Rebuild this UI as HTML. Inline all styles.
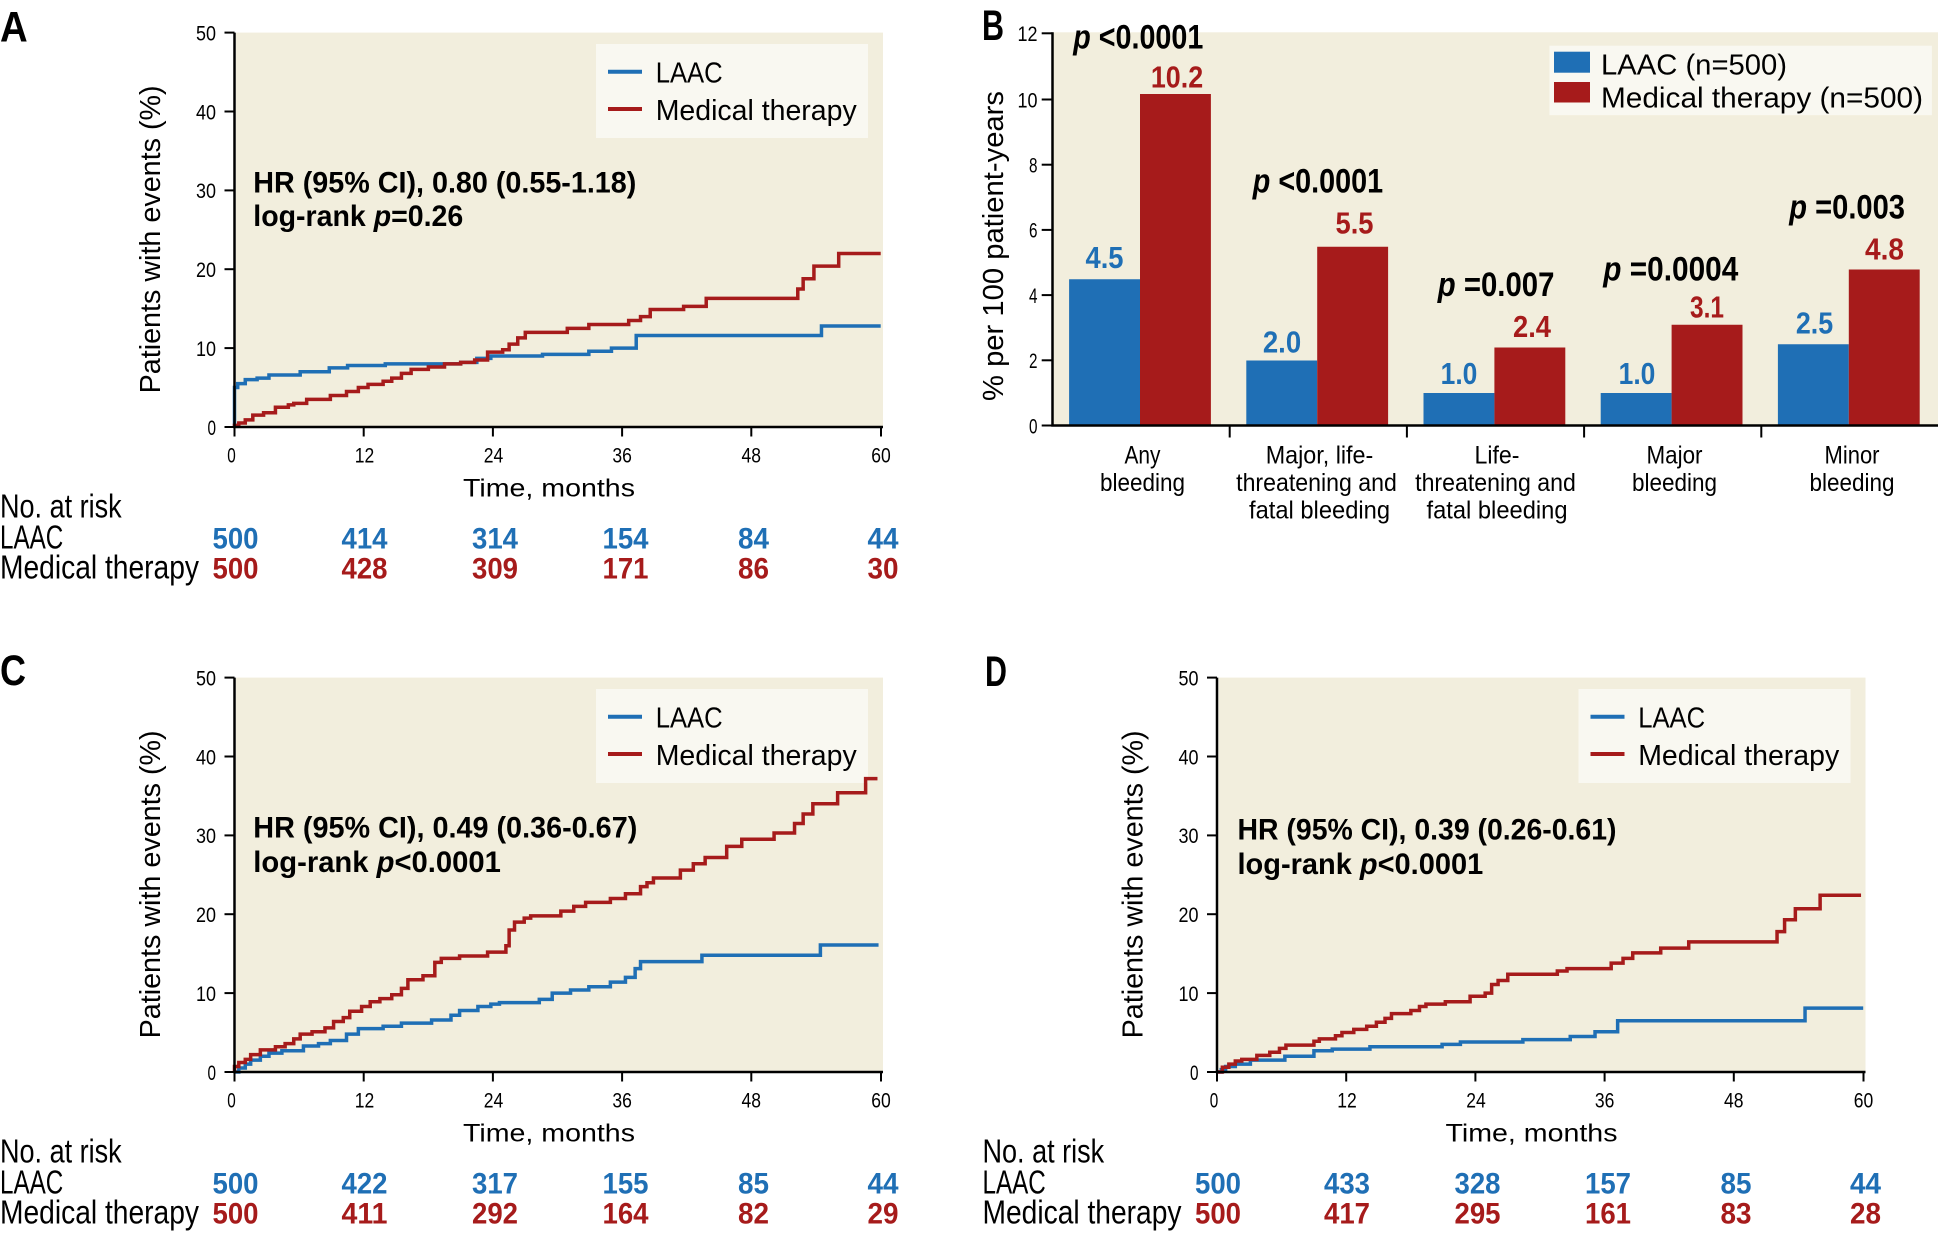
<!DOCTYPE html>
<html><head><meta charset="utf-8">
<style>
html,body{margin:0;padding:0;background:#fff;overflow:hidden;}
svg{display:block;}
.c{font-family:"Liberation Sans Narrow","Liberation Sans",sans-serif;}
.b{font-weight:700;}
.r{font-family:"Liberation Sans",sans-serif;}
</style></head>
<body>
<svg width="1938" height="1238" viewBox="0 0 1938 1238" xmlns="http://www.w3.org/2000/svg">
<defs>
<g id="kmframe">
  <rect x="236" y="32.6" width="647" height="394.4" fill="#f2eedd"/>
  <rect x="596" y="44" width="272" height="94" fill="#f9f8f1"/>
  <line x1="608" y1="71.7" x2="642" y2="71.7" stroke="#1f6fb5" stroke-width="4"/>
  <line x1="608" y1="109" x2="642" y2="109" stroke="#a61b1b" stroke-width="4"/>
  <text class="r" x="655.7" y="82.3" font-size="28.5" textLength="67" lengthAdjust="spacingAndGlyphs">LAAC</text>
  <text class="r" x="655.7" y="120" font-size="28.5" textLength="201" lengthAdjust="spacingAndGlyphs">Medical therapy</text>
</g>
<g id="kmaxes">
  <path d="M234.5 32.6 V427 H883" stroke="#000" stroke-width="2.5" fill="none"/>
  <g stroke="#000" stroke-width="2">
    <line x1="224.5" y1="427" x2="234.5" y2="427"/>
    <line x1="224.5" y1="348.1" x2="234.5" y2="348.1"/>
    <line x1="224.5" y1="269.2" x2="234.5" y2="269.2"/>
    <line x1="224.5" y1="190.4" x2="234.5" y2="190.4"/>
    <line x1="224.5" y1="111.5" x2="234.5" y2="111.5"/>
    <line x1="224.5" y1="32.6" x2="234.5" y2="32.6"/>
    <line x1="234.5" y1="427" x2="234.5" y2="436.5"/>
    <line x1="363.7" y1="427" x2="363.7" y2="436.5"/>
    <line x1="492.9" y1="427" x2="492.9" y2="436.5"/>
    <line x1="622.1" y1="427" x2="622.1" y2="436.5"/>
    <line x1="751.3" y1="427" x2="751.3" y2="436.5"/>
    <line x1="881" y1="427" x2="881" y2="436.5"/>
  </g>
  <g class="c" font-size="21.5" text-anchor="end" lengthAdjust="spacingAndGlyphs">
    <text x="216" y="434.8" textLength="8.5" lengthAdjust="spacingAndGlyphs">0</text>
    <text x="216" y="355.9" textLength="20" lengthAdjust="spacingAndGlyphs">10</text>
    <text x="216" y="277" textLength="20" lengthAdjust="spacingAndGlyphs">20</text>
    <text x="216" y="198.2" textLength="20" lengthAdjust="spacingAndGlyphs">30</text>
    <text x="216" y="119.3" textLength="20" lengthAdjust="spacingAndGlyphs">40</text>
    <text x="216" y="40.4" textLength="20" lengthAdjust="spacingAndGlyphs">50</text>
  </g>
  <g class="c" font-size="21.5" text-anchor="middle">
    <text x="231.5" y="462.3" textLength="8.5" lengthAdjust="spacingAndGlyphs">0</text>
    <text x="364.5" y="462.3" textLength="19.5" lengthAdjust="spacingAndGlyphs">12</text>
    <text x="493.5" y="462.3" textLength="19.5" lengthAdjust="spacingAndGlyphs">24</text>
    <text x="622.1" y="462.3" textLength="19.5" lengthAdjust="spacingAndGlyphs">36</text>
    <text x="751.3" y="462.3" textLength="19.5" lengthAdjust="spacingAndGlyphs">48</text>
    <text x="881" y="462.3" textLength="19.5" lengthAdjust="spacingAndGlyphs">60</text>
  </g>
  <text class="c" x="463" y="496.7" font-size="25" textLength="172" lengthAdjust="spacingAndGlyphs">Time, months</text>
  <text class="r" transform="translate(160,239.4) rotate(-90)" text-anchor="middle" font-size="29" textLength="308" lengthAdjust="spacingAndGlyphs">Patients with events (%)</text>
  <text class="c" x="0" y="517.3" font-size="33" textLength="121.7" lengthAdjust="spacingAndGlyphs">No. at risk</text>
  <text class="c" x="0" y="548.3" font-size="33" textLength="63.3" lengthAdjust="spacingAndGlyphs">LAAC</text>
  <text class="c" x="0" y="578.3" font-size="33" textLength="199" lengthAdjust="spacingAndGlyphs">Medical therapy</text>
</g>
</defs>

<!-- ================= PANEL A ================= -->
<g>
  <use href="#kmframe"/>
  <text class="c b" x="253.3" y="192.7" font-size="30" textLength="383" lengthAdjust="spacingAndGlyphs">HR (95% CI), 0.80 (0.55-1.18)</text>
  <text class="c b" x="253.3" y="226" font-size="30" textLength="210" lengthAdjust="spacingAndGlyphs">log-rank <tspan font-style="italic">p</tspan>=0.26</text>
  <g transform="translate(234.5,427) scale(10.77,-7.888)" fill="none" stroke-width="3.5" stroke-linejoin="miter">
    <path vector-effect="non-scaling-stroke" stroke="#1f6fb5" d="M0 0 V5 H0.3 V5.5 H1 V6 H2.1 V6.2 H3.2 V6.6 H6.1 V7 H8.8 V7.5 H10.5 V7.8 H14 V8 H21 V8.2 H22.5 V8.7 H23.8 V9 H28.6 V9.2 H32.9 V9.6 H35 V10 H37.3 V11.6 H54.5 V12.8 H60"/>
    <path vector-effect="non-scaling-stroke" stroke="#a61b1b" d="M0 0 V0.2 H0.4 V0.5 H1 V0.9 H1.7 V1.5 H2.7 V1.8 H3.8 V2.5 H5 V2.8 H5.5 V3 H6.7 V3.5 H8.9 V4 H10.4 V4.5 H11.5 V5 H12.4 V5.4 H13.8 V5.8 H14.6 V6.2 H15.5 V6.8 H16.4 V7.3 H18 V7.6 H19.5 V8 H21 V8.2 H22.3 V8.5 H23.5 V9.5 H24.9 V9.8 H25.5 V10.5 H26.3 V11.3 H27 V12 H30.9 V12.5 H32.9 V13 H36.6 V13.5 H37.7 V14 H38.6 V14.9 H41.7 V15.3 H43.8 V16.3 H52.3 V17.5 H52.8 V18.8 H53.8 V20.4 H56.1 V22 H60"/>
  </g>
  <use href="#kmaxes"/>
  <text class="c b" x="0" y="41.7" font-size="43" textLength="27.7" lengthAdjust="spacingAndGlyphs">A</text>
  <g class="c b" font-size="30" text-anchor="middle" fill="#1f6fb5">
    <text x="235.5" y="548.3" textLength="46" lengthAdjust="spacingAndGlyphs">500</text>
    <text x="364.5" y="548.3" textLength="46" lengthAdjust="spacingAndGlyphs">414</text>
    <text x="495" y="548.3" textLength="46" lengthAdjust="spacingAndGlyphs">314</text>
    <text x="625.5" y="548.3" textLength="46" lengthAdjust="spacingAndGlyphs">154</text>
    <text x="753.5" y="548.3" textLength="31" lengthAdjust="spacingAndGlyphs">84</text>
    <text x="883" y="548.3" textLength="31" lengthAdjust="spacingAndGlyphs">44</text>
  </g>
  <g class="c b" font-size="30" text-anchor="middle" fill="#a61b1b">
    <text x="235.5" y="578.3" textLength="46" lengthAdjust="spacingAndGlyphs">500</text>
    <text x="364.5" y="578.3" textLength="46" lengthAdjust="spacingAndGlyphs">428</text>
    <text x="495" y="578.3" textLength="46" lengthAdjust="spacingAndGlyphs">309</text>
    <text x="625.5" y="578.3" textLength="46" lengthAdjust="spacingAndGlyphs">171</text>
    <text x="753.5" y="578.3" textLength="31" lengthAdjust="spacingAndGlyphs">86</text>
    <text x="883" y="578.3" textLength="31" lengthAdjust="spacingAndGlyphs">30</text>
  </g>
</g>

<!-- ================= PANEL C ================= -->
<g transform="translate(0,645)">
  <use href="#kmframe"/>
  <text class="c b" x="253.3" y="192.7" font-size="30" textLength="384" lengthAdjust="spacingAndGlyphs">HR (95% CI), 0.49 (0.36-0.67)</text>
  <text class="c b" x="253.3" y="227" font-size="30" textLength="247.6" lengthAdjust="spacingAndGlyphs">log-rank <tspan font-style="italic">p</tspan>&lt;0.0001</text>
  <g transform="translate(234.5,427) scale(10.77,-7.888)" fill="none" stroke-width="3.5">
    <path vector-effect="non-scaling-stroke" stroke="#1f6fb5" d="M0 0 H0.4 V0.5 H1 V1 H1.5 V1.5 H2.4 V2 H3.2 V2.4 H4.4 V2.7 H6.4 V3.3 H7.8 V3.6 H8.9 V4 H10.4 V4.8 H11.5 V5.5 H13.8 V5.8 H15.5 V6.2 H18.3 V6.6 H20.1 V7.2 H20.9 V7.8 H22.6 V8.3 H23.8 V8.6 H24.6 V8.8 H28.3 V9.2 H29.5 V10 H31.2 V10.4 H32.9 V10.8 H34.9 V11.4 H36.3 V12 H37.2 V13.1 H37.7 V14 H43.4 V14.8 H54.4 V16.1 H59.8"/>
    <path vector-effect="non-scaling-stroke" stroke="#a61b1b" d="M0 0 V0.7 H0.4 V1.2 H1 V1.6 H1.5 V2.2 H2.4 V2.8 H3.8 V3.2 H4.7 V3.6 H5.5 V4.2 H6.1 V4.8 H7.2 V5.1 H8.4 V5.6 H9.2 V6.4 H10.1 V6.9 H10.7 V7.7 H11.8 V8.3 H12.6 V8.9 H13.5 V9.3 H14.6 V9.8 H15.5 V10.6 H16.1 V11.7 H17.5 V12.2 H18.6 V13.9 H19.2 V14.4 H20.9 V14.7 H23.5 V15.2 H25.2 V16 H25.5 V18 H26 V19 H26.9 V19.5 H27.5 V19.8 H30.3 V20.4 H31.5 V21 H32.6 V21.5 H34.9 V22 H36.3 V22.6 H37.7 V23.5 H38.3 V24 H38.9 V24.6 H41.4 V25.6 H42.6 V26.4 H43.7 V27.2 H45.7 V28.6 H47.1 V29.5 H50.1 V30.3 H52 V31.5 H52.8 V32.7 H53.7 V34 H56 V35.4 H58.6 V37.2 H59.7"/>
  </g>
  <use href="#kmaxes"/>
  <text class="c b" x="0" y="40.2" font-size="43" textLength="26" lengthAdjust="spacingAndGlyphs">C</text>
  <g class="c b" font-size="30" text-anchor="middle" fill="#1f6fb5">
    <text x="235.5" y="548.3" textLength="46" lengthAdjust="spacingAndGlyphs">500</text>
    <text x="364.5" y="548.3" textLength="46" lengthAdjust="spacingAndGlyphs">422</text>
    <text x="495" y="548.3" textLength="46" lengthAdjust="spacingAndGlyphs">317</text>
    <text x="625.5" y="548.3" textLength="46" lengthAdjust="spacingAndGlyphs">155</text>
    <text x="753.5" y="548.3" textLength="31" lengthAdjust="spacingAndGlyphs">85</text>
    <text x="883" y="548.3" textLength="31" lengthAdjust="spacingAndGlyphs">44</text>
  </g>
  <g class="c b" font-size="30" text-anchor="middle" fill="#a61b1b">
    <text x="235.5" y="578.3" textLength="46" lengthAdjust="spacingAndGlyphs">500</text>
    <text x="364.5" y="578.3" textLength="46" lengthAdjust="spacingAndGlyphs">411</text>
    <text x="495" y="578.3" textLength="46" lengthAdjust="spacingAndGlyphs">292</text>
    <text x="625.5" y="578.3" textLength="46" lengthAdjust="spacingAndGlyphs">164</text>
    <text x="753.5" y="578.3" textLength="31" lengthAdjust="spacingAndGlyphs">82</text>
    <text x="883" y="578.3" textLength="31" lengthAdjust="spacingAndGlyphs">29</text>
  </g>
</g>

<!-- ================= PANEL D ================= -->
<g transform="translate(982.5,645)">
  <use href="#kmframe"/>
  <text class="c b" x="255" y="194.3" font-size="30" textLength="379" lengthAdjust="spacingAndGlyphs">HR (95% CI), 0.39 (0.26-0.61)</text>
  <text class="c b" x="255" y="229" font-size="30" textLength="245.7" lengthAdjust="spacingAndGlyphs">log-rank <tspan font-style="italic">p</tspan>&lt;0.0001</text>
  <g transform="translate(234.5,427) scale(10.77,-7.888)" fill="none" stroke-width="3.5">
    <path vector-effect="non-scaling-stroke" stroke="#1f6fb5" d="M0 0 H0.4 V0.3 H0.8 V0.7 H1.7 V1 H3.1 V1.5 H6.3 V2 H9 V2.7 H10.7 V2.9 H14.2 V3.2 H20.9 V3.5 H22.6 V3.8 H28.4 V4.1 H32.8 V4.5 H35.1 V5.1 H37.2 V6.5 H54.6 V8.1 H60"/>
    <path vector-effect="non-scaling-stroke" stroke="#a61b1b" d="M0 0 H0.5 V0.6 H1.1 V1 H1.7 V1.4 H2.3 V1.6 H3.7 V2.1 H4.9 V2.5 H5.8 V3 H6.4 V3.4 H9 V3.9 H9.5 V4.2 H11 V4.6 H11.6 V5 H12.7 V5.4 H13.9 V5.8 H14.8 V6.3 H15.6 V6.8 H16.2 V7.4 H18 V7.8 H18.8 V8.3 H19.4 V8.6 H21.2 V8.9 H23.5 V9.6 H24.9 V10 H25.5 V11.1 H26.1 V11.6 H27 V12.4 H31.6 V12.8 H32.5 V13.1 H36.6 V13.8 H37.7 V14.4 H38.6 V15.1 H41.2 V15.7 H43.8 V16.5 H52 V17.8 H52.7 V19.3 H53.7 V20.7 H56 V22.4 H59.8"/>
  </g>
  <use href="#kmaxes"/>
  <text class="c b" x="2.5" y="41" font-size="43" textLength="22" lengthAdjust="spacingAndGlyphs">D</text>
  <g class="c b" font-size="30" text-anchor="middle" fill="#1f6fb5">
    <text x="235.5" y="548.3" textLength="46" lengthAdjust="spacingAndGlyphs">500</text>
    <text x="364.5" y="548.3" textLength="46" lengthAdjust="spacingAndGlyphs">433</text>
    <text x="495" y="548.3" textLength="46" lengthAdjust="spacingAndGlyphs">328</text>
    <text x="625.5" y="548.3" textLength="46" lengthAdjust="spacingAndGlyphs">157</text>
    <text x="753.5" y="548.3" textLength="31" lengthAdjust="spacingAndGlyphs">85</text>
    <text x="883" y="548.3" textLength="31" lengthAdjust="spacingAndGlyphs">44</text>
  </g>
  <g class="c b" font-size="30" text-anchor="middle" fill="#a61b1b">
    <text x="235.5" y="578.3" textLength="46" lengthAdjust="spacingAndGlyphs">500</text>
    <text x="364.5" y="578.3" textLength="46" lengthAdjust="spacingAndGlyphs">417</text>
    <text x="495" y="578.3" textLength="46" lengthAdjust="spacingAndGlyphs">295</text>
    <text x="625.5" y="578.3" textLength="46" lengthAdjust="spacingAndGlyphs">161</text>
    <text x="753.5" y="578.3" textLength="31" lengthAdjust="spacingAndGlyphs">83</text>
    <text x="883" y="578.3" textLength="31" lengthAdjust="spacingAndGlyphs">28</text>
  </g>
</g>

<!-- ================= PANEL B ================= -->
<g>
  <rect x="1053" y="32.3" width="885" height="393.2" fill="#f2eedd"/>
  <rect x="1549.4" y="45.7" width="382.5" height="69.5" fill="#f9f8f1"/>
  <rect x="1554" y="51.7" width="36" height="21" fill="#1f6fb5"/>
  <rect x="1554" y="82" width="36" height="20.5" fill="#a61b1b"/>
  <text class="r" x="1601" y="74.3" font-size="28.5" textLength="186" lengthAdjust="spacingAndGlyphs">LAAC (n=500)</text>
  <text class="r" x="1601" y="107.3" font-size="28.5" textLength="322" lengthAdjust="spacingAndGlyphs">Medical therapy (n=500)</text>

  <!-- bars -->
  <g fill="#1f6fb5">
    <rect x="1069.1" y="279.25" width="70.9" height="146.25"/>
    <rect x="1246.3" y="360.5" width="70.9" height="65"/>
    <rect x="1423.5" y="393" width="70.9" height="32.5"/>
    <rect x="1600.7" y="393" width="70.9" height="32.5"/>
    <rect x="1777.9" y="344.25" width="70.9" height="81.25"/>
  </g>
  <g fill="#a61b1b">
    <rect x="1140" y="94" width="70.9" height="331.5"/>
    <rect x="1317.2" y="246.75" width="70.9" height="178.75"/>
    <rect x="1494.4" y="347.5" width="70.9" height="78"/>
    <rect x="1671.6" y="324.75" width="70.9" height="100.75"/>
    <rect x="1848.8" y="269.5" width="70.9" height="156"/>
  </g>

  <!-- axes -->
  <path d="M1052.5 32.3 V425.5 H1938" stroke="#000" stroke-width="2.5" fill="none"/>
  <g stroke="#000" stroke-width="2">
    <line x1="1041.7" y1="425.5" x2="1052.5" y2="425.5"/>
    <line x1="1041.7" y1="360.3" x2="1052.5" y2="360.3"/>
    <line x1="1041.7" y1="295.1" x2="1052.5" y2="295.1"/>
    <line x1="1041.7" y1="229.9" x2="1052.5" y2="229.9"/>
    <line x1="1041.7" y1="164.7" x2="1052.5" y2="164.7"/>
    <line x1="1041.7" y1="99.5" x2="1052.5" y2="99.5"/>
    <line x1="1041.7" y1="33.3" x2="1052.5" y2="33.3"/>
    <line x1="1229.7" y1="425.5" x2="1229.7" y2="437.5"/>
    <line x1="1406.9" y1="425.5" x2="1406.9" y2="437.5"/>
    <line x1="1584.1" y1="425.5" x2="1584.1" y2="437.5"/>
    <line x1="1761.3" y1="425.5" x2="1761.3" y2="437.5"/>
  </g>
  <g class="c" font-size="21.5" text-anchor="end">
    <text x="1037.5" y="433.3" textLength="8.5" lengthAdjust="spacingAndGlyphs">0</text>
    <text x="1037.5" y="368.1" textLength="8.5" lengthAdjust="spacingAndGlyphs">2</text>
    <text x="1037.5" y="302.9" textLength="8.5" lengthAdjust="spacingAndGlyphs">4</text>
    <text x="1037.5" y="237.7" textLength="8.5" lengthAdjust="spacingAndGlyphs">6</text>
    <text x="1037.5" y="172.5" textLength="8.5" lengthAdjust="spacingAndGlyphs">8</text>
    <text x="1037.5" y="107.3" textLength="20" lengthAdjust="spacingAndGlyphs">10</text>
    <text x="1037.5" y="41.1" textLength="20" lengthAdjust="spacingAndGlyphs">12</text>
  </g>
  <text class="r" transform="translate(1003,246) rotate(-90)" text-anchor="middle" font-size="29" textLength="310" lengthAdjust="spacingAndGlyphs">% per 100 patient-years</text>
  <text class="c b" x="982" y="40" font-size="43" textLength="22" lengthAdjust="spacingAndGlyphs">B</text>

  <!-- p-values -->
  <g class="c b" font-size="34">
    <text x="1073.3" y="48.3" textLength="130" lengthAdjust="spacingAndGlyphs"><tspan font-style="italic">p</tspan> &lt;0.0001</text>
    <text x="1252.8" y="192.7" textLength="130.4" lengthAdjust="spacingAndGlyphs"><tspan font-style="italic">p</tspan> &lt;0.0001</text>
    <text x="1437.8" y="296" textLength="116.6" lengthAdjust="spacingAndGlyphs"><tspan font-style="italic">p</tspan> =0.007</text>
    <text x="1603.3" y="280.7" textLength="135" lengthAdjust="spacingAndGlyphs"><tspan font-style="italic">p</tspan> =0.0004</text>
    <text x="1789.3" y="218.5" textLength="115.7" lengthAdjust="spacingAndGlyphs"><tspan font-style="italic">p</tspan> =0.003</text>
  </g>

  <!-- value labels -->
  <g class="c b" font-size="31" text-anchor="middle" fill="#1f6fb5">
    <text x="1104.5" y="268" textLength="38" lengthAdjust="spacingAndGlyphs">4.5</text>
    <text x="1282" y="352.7" textLength="38.3" lengthAdjust="spacingAndGlyphs">2.0</text>
    <text x="1459" y="384" textLength="36.7" lengthAdjust="spacingAndGlyphs">1.0</text>
    <text x="1637" y="384" textLength="36.7" lengthAdjust="spacingAndGlyphs">1.0</text>
    <text x="1814.5" y="333.3" textLength="37.3" lengthAdjust="spacingAndGlyphs">2.5</text>
  </g>
  <g class="c b" font-size="31" text-anchor="middle" fill="#a61b1b">
    <text x="1177" y="87.3" textLength="52.3" lengthAdjust="spacingAndGlyphs">10.2</text>
    <text x="1354.5" y="233.7" textLength="38" lengthAdjust="spacingAndGlyphs">5.5</text>
    <text x="1532" y="337" textLength="38" lengthAdjust="spacingAndGlyphs">2.4</text>
    <text x="1707" y="317.3" textLength="34" lengthAdjust="spacingAndGlyphs">3.1</text>
    <text x="1884.5" y="259.3" textLength="39" lengthAdjust="spacingAndGlyphs">4.8</text>
  </g>

  <!-- category labels -->
  <g class="c" font-size="25" text-anchor="middle">
    <text x="1142.5" y="463.3" textLength="36" lengthAdjust="spacingAndGlyphs">Any</text>
    <text x="1142.5" y="490.8" textLength="85" lengthAdjust="spacingAndGlyphs">bleeding</text>
    <text x="1319.5" y="463.3" textLength="107.6" lengthAdjust="spacingAndGlyphs">Major, life-</text>
    <text x="1316.5" y="490.8" textLength="160.7" lengthAdjust="spacingAndGlyphs">threatening and</text>
    <text x="1319.5" y="518.3" textLength="141" lengthAdjust="spacingAndGlyphs">fatal bleeding</text>
    <text x="1497" y="463.3" textLength="45" lengthAdjust="spacingAndGlyphs">Life-</text>
    <text x="1495.5" y="490.8" textLength="160.7" lengthAdjust="spacingAndGlyphs">threatening and</text>
    <text x="1497" y="518.3" textLength="141" lengthAdjust="spacingAndGlyphs">fatal bleeding</text>
    <text x="1674.5" y="463.3" textLength="56" lengthAdjust="spacingAndGlyphs">Major</text>
    <text x="1674.5" y="490.8" textLength="85" lengthAdjust="spacingAndGlyphs">bleeding</text>
    <text x="1852" y="463.3" textLength="55" lengthAdjust="spacingAndGlyphs">Minor</text>
    <text x="1852" y="490.8" textLength="85" lengthAdjust="spacingAndGlyphs">bleeding</text>
  </g>
</g>
</svg>
</body></html>
